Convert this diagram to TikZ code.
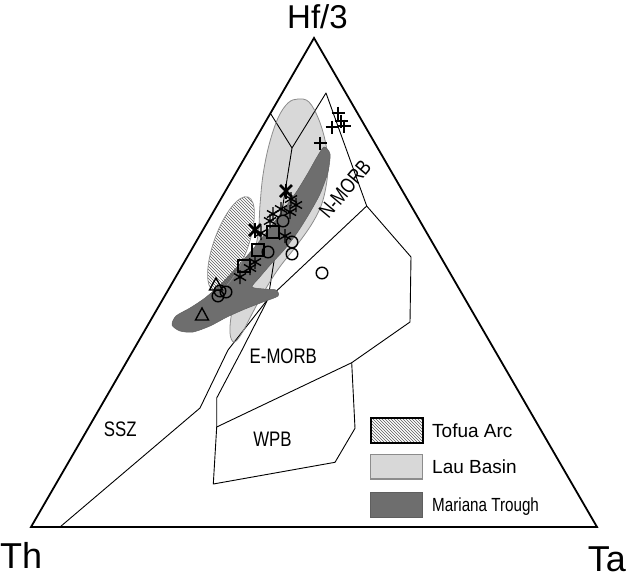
\documentclass[tikz,border=0pt]{standalone}
\usepackage{fontspec}
\setmainfont{Liberation Sans}
\newfontfamily\narrowfont[FakeStretch=0.8]{Liberation Sans}
\usetikzlibrary{patterns}
\definecolor{laufill}{RGB}{216,216,216}
\definecolor{lauline}{RGB}{140,140,140}
\definecolor{marfill}{RGB}{110,110,110}
\definecolor{marline}{RGB}{95,95,95}
\definecolor{hatchcol}{RGB}{90,90,90}
\tikzset{
  frame/.style={line width=1.8pt, line join=miter},
  fieldline/.style={line width=0.9pt, line join=round},
  symline/.style={line width=1.4pt, black},
  cornerlabel/.style={font=\fontsize{36}{36}\selectfont, inner sep=0pt},
  fieldlabel/.style={font=\narrowfont\fontsize{21}{21}\selectfont, inner sep=0pt},
  legendtext/.style={font=\fontsize{19}{19}\selectfont, inner sep=0pt, anchor=base west},
  plussym/.pic={\draw[symline] (-6.5,0)--(6.5,0) (0,-6.5)--(0,6.5);},
  astsym/.pic={\draw[symline] (0,-7)--(0,7) (-6,-3.5)--(6,3.5) (-6,3.5)--(6,-3.5);},
  boldsym/.pic={\draw[symline, line width=2.6pt] (-6,-6)--(6,6) (-6,6)--(6,-6); \draw[symline] (0,-7.5)--(0,7.5);},
  circsym/.pic={\draw[symline] (0,0) circle[radius=5.8pt];},
  sqsym/.pic={\draw[symline] (-6,-6) rectangle (6,6);},
  trisym/.pic={\draw[symline] (0,-7)--(6.5,5)--(-6.5,5)--cycle;},
}
\begin{document}
\begin{tikzpicture}[x=1pt,y=-1pt]
\useasboundingbox (0,0) rectangle (627,574);
% triangle corners
\coordinate (Th) at (31,527);
\coordinate (Ta) at (597,527);
\coordinate (Hf) at (314,38);
% field vertices
\coordinate (L1) at (270.4,113.3);
\coordinate (J) at (292,148);
\coordinate (N) at (326,93);
\coordinate (P) at (366.7,206);
\coordinate (Q) at (411,257);
\coordinate (Q2) at (410,322);
\coordinate (R) at (351.7,362.7);
\coordinate (V) at (268,299);
\coordinate (E1) at (242,350);
\coordinate (E2) at (216.7,398);
\coordinate (S) at (216.7,427);
\coordinate (W1) at (355,428.3);
\coordinate (W2) at (335,462.3);
\coordinate (W3) at (213.3,484);
\coordinate (Z1) at (228,350);
\coordinate (Z2) at (200,408);
\coordinate (Z3) at (60,527);

% Lau Basin
\fill[laufill] plot[smooth cycle, tension=0.6] coordinates {
 (298,99) (309,102) (319,120) (326,145) (328,170) (323,200) (313,222)
 (297,245) (279,268) (265,290) (253,312) (242,333) (234,342) (230,333)
 (232,312) (240,290) (251,262) (258,235) (260,205) (263,175) (269,145)
 (278,118) (288,103)};
% field lines
\draw[fieldline] (L1) -- (J) -- (N) -- (P) -- (Q) -- (Q2) -- (R) -- (S);
\draw[fieldline] (J) -- (V) -- (P);
\draw[fieldline] (V) -- (E1) -- (E2) -- (S) -- (W3) -- (W2) -- (W1) -- (R);
\draw[fieldline] (V) -- (Z1) -- (Z2) -- (Z3);
% Lau outline
\draw[lauline, line width=0.8pt] plot[smooth cycle, tension=0.6] coordinates {
 (298,99) (309,102) (319,120) (326,145) (328,170) (323,200) (313,222)
 (297,245) (279,268) (265,290) (253,312) (242,333) (234,342) (230,333)
 (232,312) (240,290) (251,262) (258,235) (260,205) (263,175) (269,145)
 (278,118) (288,103)};
% Mariana Trough
\filldraw[fill=marfill, draw=marline, line width=0.5pt] plot[smooth cycle, tension=0.45] coordinates {
 (324,147) (330,154) (328,172) (320,194) (309,214) (297,233) (284,250)
 (271,264) (259,278) (252,287) (264,289) (276,290) (278,296) (263,302)
 (245,309) (227,317) (210,326) (193,332) (180,331) (172,325) (176,316)
 (190,308) (205,298) (221,284) (237,267) (253,249) (269,229) (284,209)
 (297,191) (308,173) (317,157)};
% Tofua Arc
\begin{scope}[shift={(231,244)}]
\path[pattern=north west lines, pattern color=hatchcol, rotate=70] (0,0) ellipse[x radius=50pt, y radius=17pt];
\draw[lauline, line width=0.7pt, rotate=70] (0,0) ellipse[x radius=50pt, y radius=17pt];
\end{scope}
% frame
\draw[frame] (Th) -- (Ta) -- (Hf) -- cycle;

% data symbols
\foreach \p in {(338,113),(332,127),(341,121),(344,126),(320,143)} \pic at \p {plussym};
\foreach \p in {(291,199),(296,205),(281,209),(273,214),(261,233),(285,236),(250,268),(255,262),(240,277),(290,212),(270,221)} \pic at \p {astsym};
\foreach \p in {(286,191),(255,230)} \pic at \p {boldsym};
\foreach \p in {(283,221),(292,242),(292,254),(268,252),(322,273),(220,291),(218,296),(226,292)} \pic at \p {circsym};
\foreach \p in {(273,232),(258,250),(244,266)} \pic at \p {sqsym};
\foreach \p in {(216,285),(202,315)} \pic at \p {trisym};

% corner labels
\node[cornerlabel, font=\fontsize{33}{33}\selectfont, anchor=base] (lHf) at (317.5,28.3) {Hf/3};
\node[cornerlabel, anchor=base west] (lTh) at (0,568) {Th};
\node[cornerlabel, anchor=base east] (lTa) at (626,571) {Ta};

% field labels
\node[fieldlabel, rotate=50] (lN) at (345,189) {N-MORB};
\node[fieldlabel, anchor=base] (lE) at (283.3,363.3) {E-MORB};
\node[fieldlabel, anchor=base] (lW) at (272.5,446.5) {WPB};
\node[fieldlabel, anchor=base] (lS) at (120.3,436) {SSZ};

% legend
\node[draw=black, line width=1.8pt, pattern=north west lines, pattern color=hatchcol, minimum width=51.7pt, minimum height=25pt, inner sep=0pt, anchor=north west] (kT) at (370,416.7) {};
\node[draw=lauline, fill=laufill, line width=1.4pt, minimum width=51.7pt, minimum height=24.3pt, inner sep=0pt, anchor=north west] (kL) at (370,454) {};
\node[draw=marline, fill=marfill, line width=0.6pt, minimum width=51.7pt, minimum height=25pt, inner sep=0pt, anchor=north west] (kM) at (370,491.7) {};
\node[legendtext] (tT) at (432,437) {Tofua Arc};
\node[legendtext] (tL) at (432,473.5) {Lau Basin};
\node[legendtext, font=\narrowfont\fontsize{19}{19}\selectfont] (tM) at (432,511) {Mariana Trough};
\end{tikzpicture}
\end{document}
